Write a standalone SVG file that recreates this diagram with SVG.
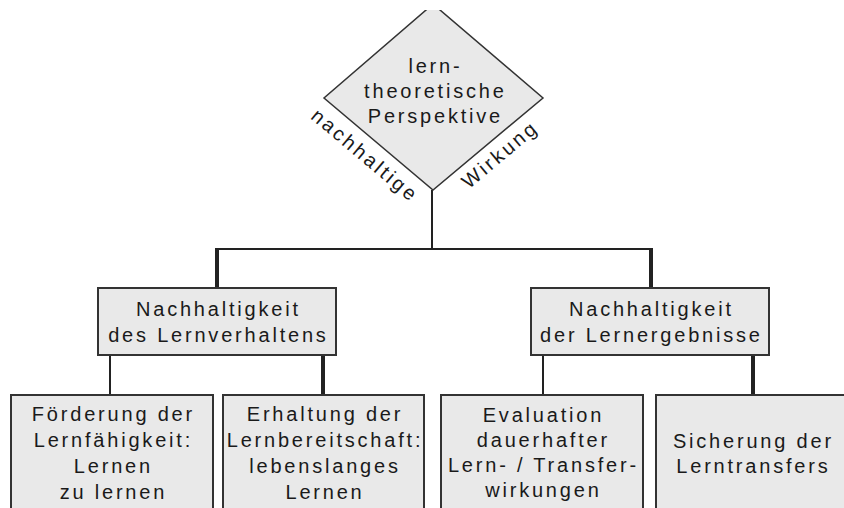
<svg xmlns="http://www.w3.org/2000/svg" width="844" height="508" viewBox="0 0 844 508">
  <defs>
    <clipPath id="topclip"><rect x="0" y="10" width="844" height="498"/></clipPath>
  </defs>
  <style>
    .box { fill: #e9e9e9; stroke: #333333; stroke-width: 2; }
    .dia { fill: #e9e9e9; stroke: #333333; stroke-width: 1.5; }
    .t { font-family: "Liberation Sans", Arial, sans-serif; font-size: 20px; fill: #1a1a1a; text-anchor: middle; letter-spacing: 2.8px; }
    .thin { stroke: #222222; stroke-width: 2; fill: none; }
    .thick { stroke: #222222; stroke-width: 4; fill: none; }
  </style>
  <rect width="844" height="508" fill="#ffffff"/>

  <g id="connectors">
    <line class="thin" x1="432" y1="190" x2="432" y2="249"/>
    <line class="thin" x1="216" y1="249" x2="652" y2="249"/>
    <line class="thick" x1="217" y1="248" x2="217" y2="288"/>
    <line class="thick" x1="651" y1="248" x2="651" y2="288"/>
    <line class="thin" x1="110" y1="355" x2="110" y2="395"/>
    <line class="thick" x1="323" y1="355" x2="323" y2="395"/>
    <line class="thin" x1="543" y1="355" x2="543" y2="395"/>
    <line class="thick" x1="753" y1="355" x2="753" y2="395"/>
  </g>

  <g id="perspektive">
    <polygon class="dia" clip-path="url(#topclip)" points="433,4 543,98 433,190 324,98"/>
    <text class="t" x="435.4" y="73">lern-</text>
    <text class="t" x="435.4" y="98">theoretische</text>
    <text class="t" x="435.4" y="123">Perspektive</text>
    <text class="t" transform="translate(360.7,160.7) rotate(40)" x="0" y="0">nachhaltige</text>
    <text class="t" transform="translate(504.3,159.6) rotate(-40)" x="0" y="0">Wirkung</text>
  </g>

  <g id="lernverhalten">
    <rect class="box" x="98" y="288" width="238" height="67"/>
    <text class="t" x="218.4" y="316">Nachhaltigkeit</text>
    <text class="t" x="218.4" y="342">des Lernverhaltens</text>
  </g>

  <g id="lernergebnisse">
    <rect class="box" x="531" y="288" width="238" height="67"/>
    <text class="t" x="651.4" y="316">Nachhaltigkeit</text>
    <text class="t" x="651.4" y="342">der Lernergebnisse</text>
  </g>

  <g id="lernfaehigkeit">
    <rect class="box" x="11" y="395" width="202" height="125"/>
    <text class="t" x="113.4" y="421">Förderung der</text>
    <text class="t" x="113.4" y="447">Lernfähigkeit:</text>
    <text class="t" x="113.4" y="473">Lernen</text>
    <text class="t" x="113.4" y="499">zu lernen</text>
  </g>

  <g id="lernbereitschaft">
    <rect class="box" x="223" y="395" width="201" height="125"/>
    <text class="t" x="325" y="421">Erhaltung der</text>
    <text class="t" x="325" y="447">Lernbereitschaft:</text>
    <text class="t" x="325" y="473">lebenslanges</text>
    <text class="t" x="325" y="499">Lernen</text>
  </g>

  <g id="evaluation">
    <rect class="box" x="441" y="395" width="202" height="125"/>
    <text class="t" x="543.4" y="422">Evaluation</text>
    <text class="t" x="543.4" y="447">dauerhafter</text>
    <text class="t" x="543.4" y="472">Lern- / Transfer-</text>
    <text class="t" x="543.4" y="497">wirkungen</text>
  </g>

  <g id="lerntransfer">
    <rect class="box" x="656" y="395" width="194" height="125"/>
    <text class="t" x="753.4" y="448">Sicherung der</text>
    <text class="t" x="753.4" y="473">Lerntransfers</text>
  </g>
</svg>
